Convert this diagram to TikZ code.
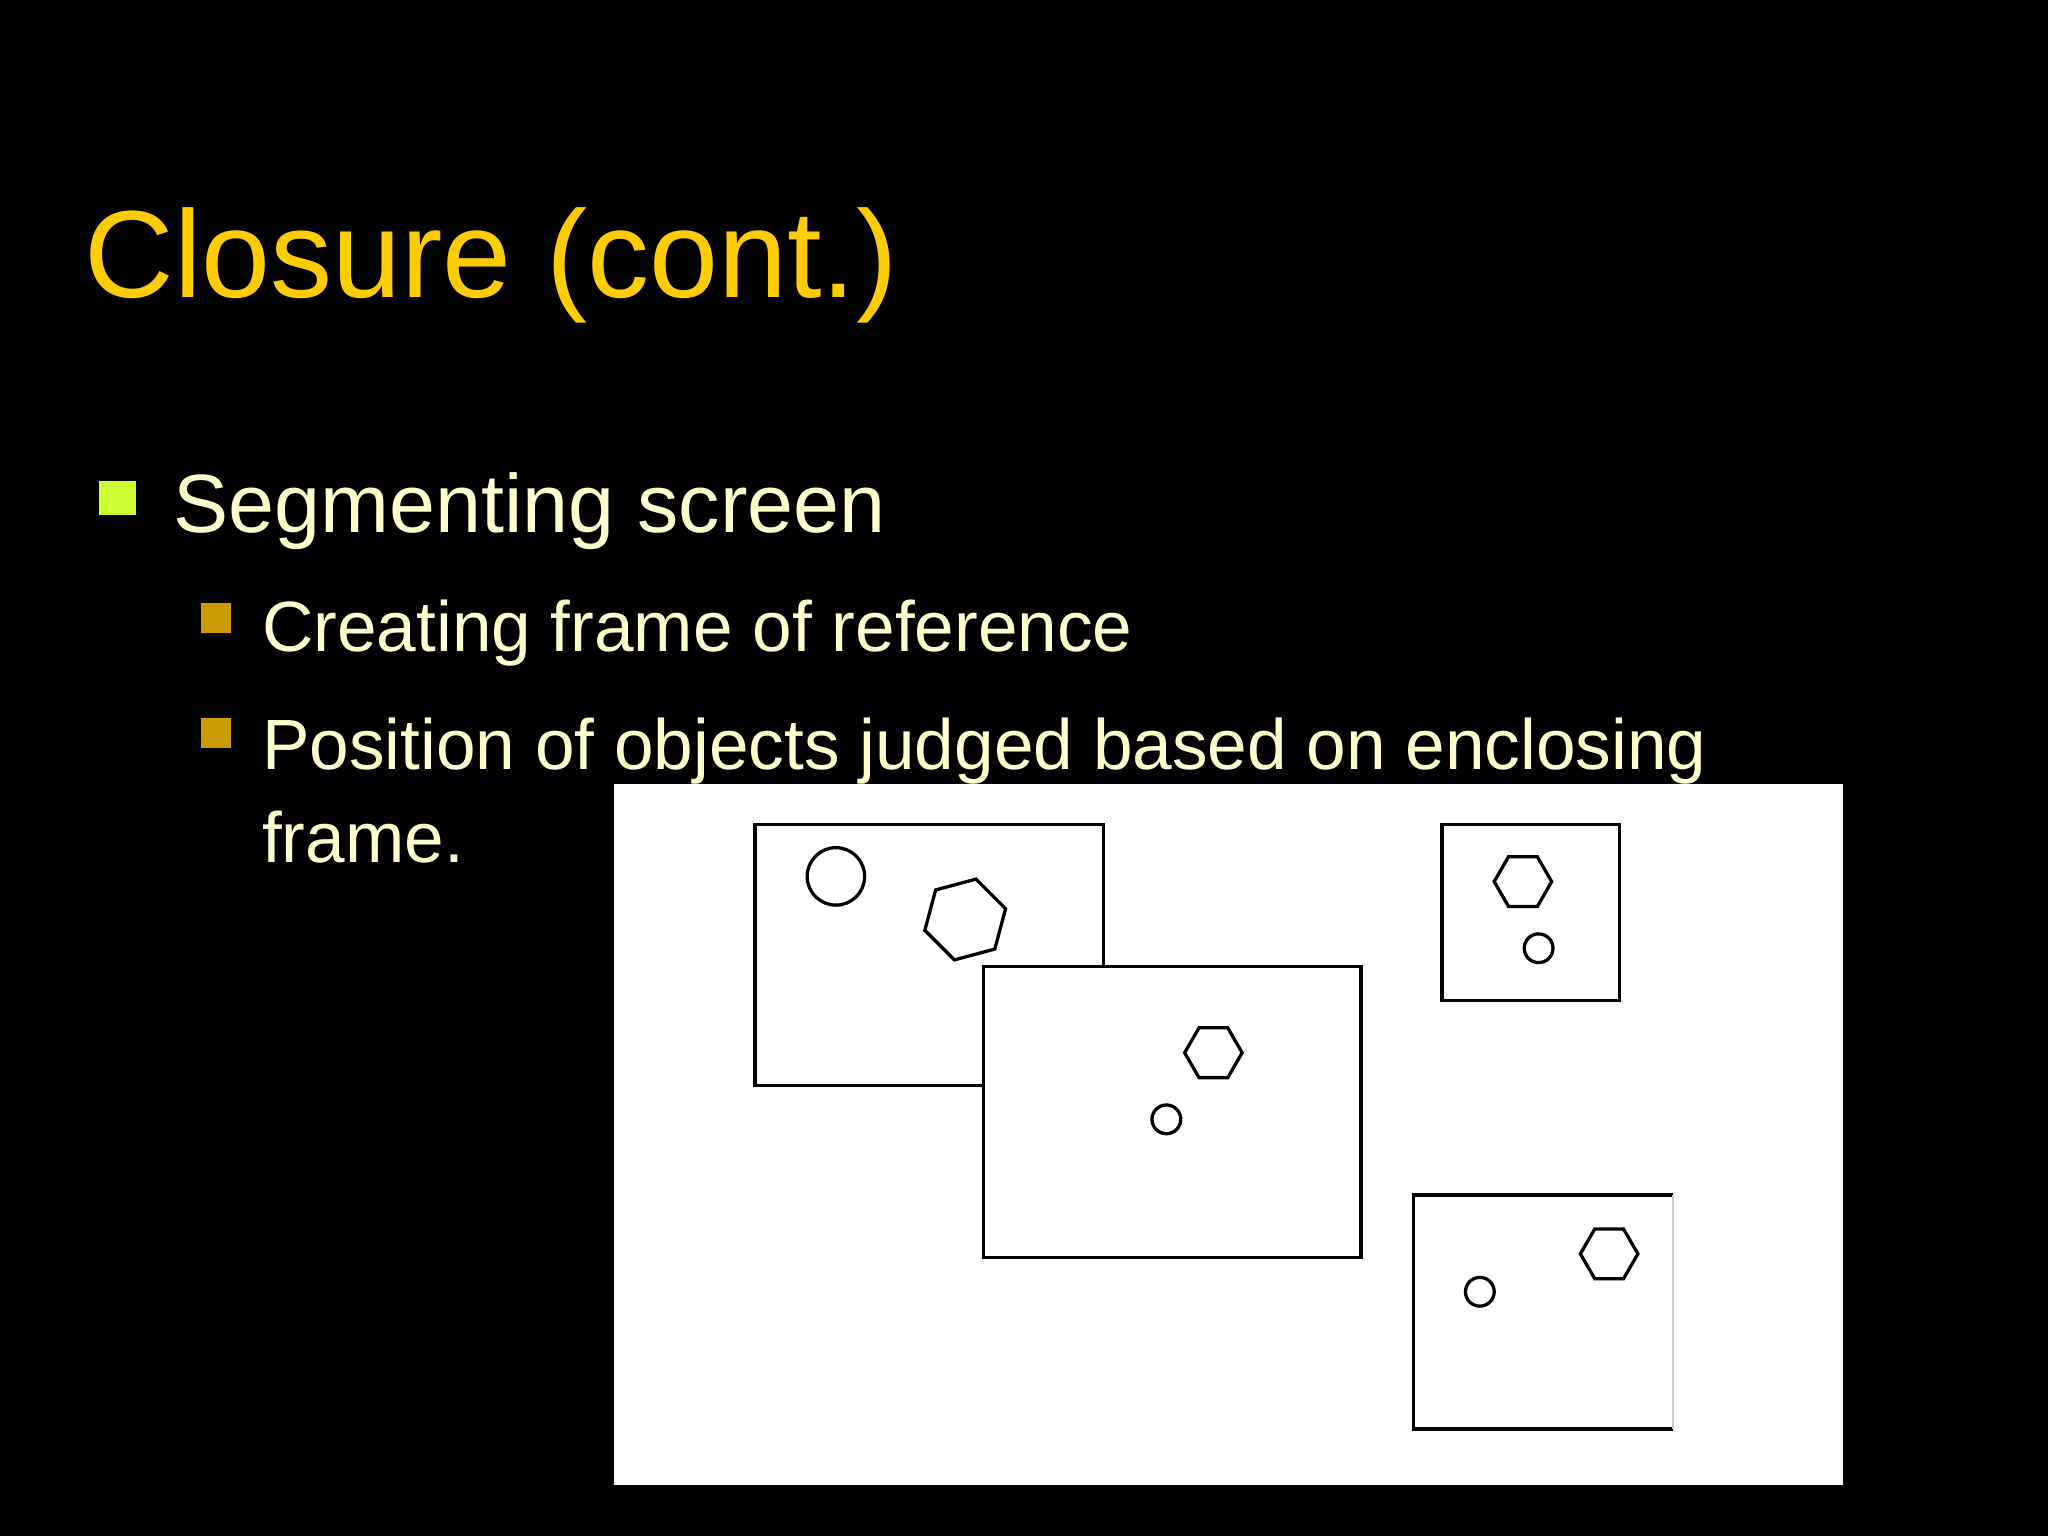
\documentclass[tikz,border=0pt]{standalone}
\usepackage{fontspec}
\setmainfont{Liberation Sans}
\usetikzlibrary{shapes.geometric}
\definecolor{titley}{HTML}{FFCC00}
\definecolor{txt}{HTML}{FFFFCC}
\definecolor{bgreen}{HTML}{CCFF33}
\definecolor{bgold}{HTML}{CC9900}
\tikzset{
  frm/.style={draw=black,line width=0.025cm,fill=white},
  shp/.style={draw=black,line width=0.025cm},
  hexa/.style={shp,regular polygon,regular polygon sides=6,inner sep=0pt},
  circ/.style={shp,circle,inner sep=0pt},
  lvl/.style={anchor=base west,text=txt,inner sep=0pt}
}
\begin{document}
\begin{tikzpicture}[x=0.01cm,y=-0.01cm]
\fill[black] (0,0) rectangle (1568,1176);
\useasboundingbox (0,0) rectangle (1568,1176);
\node[anchor=base west,text=titley,inner sep=0pt,font=\fontsize{27pt}{32pt}\selectfont] (title) at (64,228) {Closure (cont.)};
\fill[bgreen] (76,368) rectangle (104,394);
\node[lvl,font=\fontsize{18pt}{22pt}\selectfont] (b1) at (132,408) {Segmenting screen};
\fill[bgold] (154,462) rectangle (177,485);
\node[lvl,font=\fontsize{15.5pt}{19pt}\selectfont] (b2) at (200,499) {Creating frame of reference};
\fill[bgold] (154,550) rectangle (177,573);
\node[lvl,font=\fontsize{15.5pt}{19pt}\selectfont] (b3) at (200,589) {Position of objects judged based on enclosing};
\node[lvl,font=\fontsize{15.5pt}{19pt}\selectfont] (b3b) at (200,660) {frame.};
\fill[white] (470,600) rectangle (1411,1137);
\draw[frm] (578,631) rectangle (845,831);
\node[circ,minimum size=44\pgflinewidth/\pgflinewidth*0.01cm] (c1) at (640,671) {};
\node[hexa,minimum size=0.64cm,rotate=15] (h1) at (739,704) {};
\draw[frm] (753,740) rectangle (1042,963);
\node[hexa,minimum size=0.44cm] (h2) at (929,806) {};
\node[circ,minimum size=0.22cm] (c2) at (893,857) {};
\draw[frm] (1104,631) rectangle (1240,766);
\node[hexa,minimum size=0.44cm] (h3) at (1166,675) {};
\node[circ,minimum size=0.22cm] (c3) at (1178,726) {};
\draw[frm] (1281,915) -- (1082,915) -- (1082,1094) -- (1281,1094);
\draw[gray!40,line width=0.01cm] (1281,915) -- (1281,1094);
\node[circ,minimum size=0.22cm] (c4) at (1133,989) {};
\node[hexa,minimum size=0.44cm] (h4) at (1232,960) {};
\end{tikzpicture}
\end{document}
